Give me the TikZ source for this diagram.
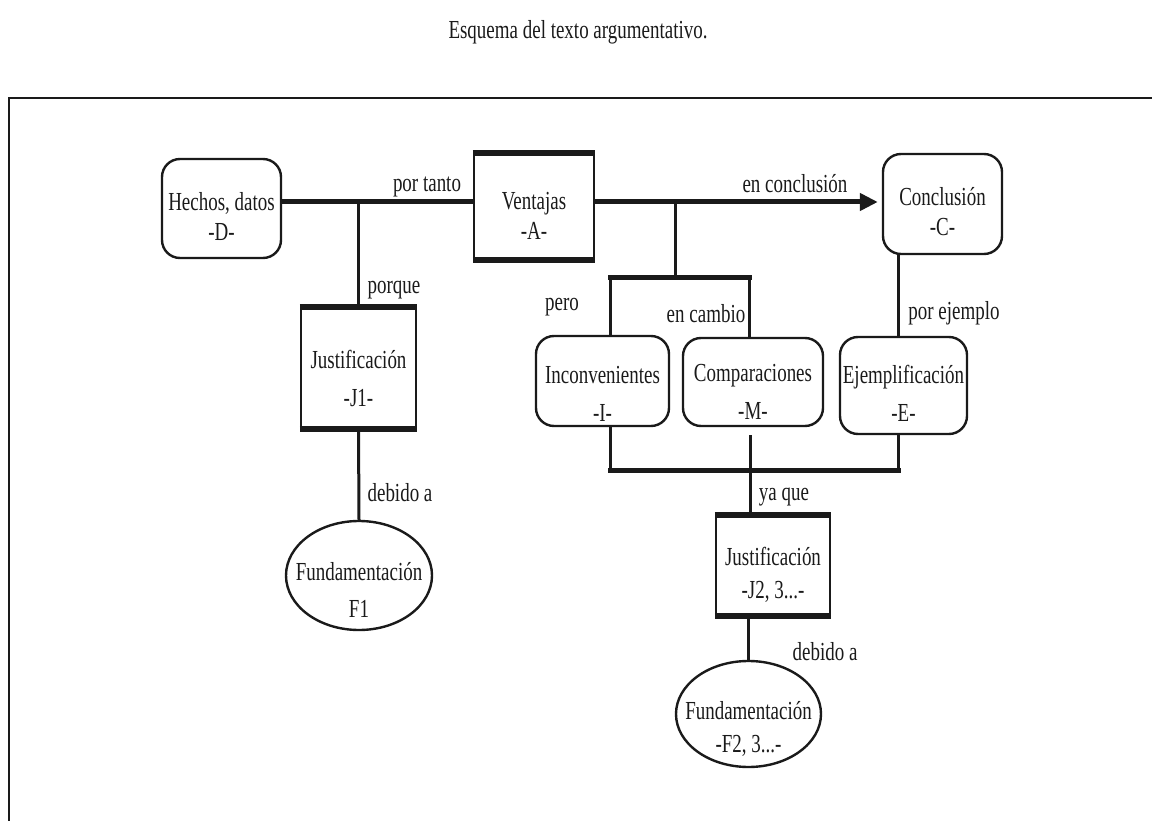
\documentclass[tikz,border=0pt]{standalone}
\usepackage{fontspec}
\setmainfont{Liberation Serif}[FakeStretch=0.73]
\usepackage{tikz}
\usetikzlibrary{arrows.meta,positioning,shapes.geometric}
\usepackage{xcolor}
\definecolor{ink}{HTML}{1A1A1A}
% two lines of a box, the first one pushed down by a tall strut
\newcommand{\twoline}[3]{\rule{0pt}{#1}#2\\#3\rule[-8pt]{0pt}{8pt}}
\tikzset{
  txt/.style={font=\fontsize{26}{32}\selectfont,text=ink,align=center,inner sep=0pt},
  roundbox/.style={txt,draw=ink,line width=2.4pt,rounded corners=18pt,inner ysep=-10pt},
  plainbox/.style={txt,draw=ink,line width=2.4pt,inner ysep=-10pt},
  oval/.style={txt,draw=ink,ellipse,line width=2.4pt,inner xsep=-30pt,inner ysep=-25pt},
  toprow/.style={font=\fontsize{26}{30}\selectfont},
  midrow/.style={font=\fontsize{26}{38}\selectfont},
  vlink/.style={draw=ink,line width=3pt},
  hlink/.style={draw=ink,line width=5pt,line cap=rect},
  capbar/.style={draw=ink,line width=6pt},
  lbl/.style={txt}
}

\begin{document}
\begin{tikzpicture}[x=1pt,y=-1pt]
  \useasboundingbox (0,0) rectangle (1152,821);
  \node[txt] (title) at (578,32) {Esquema del texto argumentativo.};
  \draw[draw=ink,line width=1.6pt] (9,821) -- (9,98) -- (1152,98);

  % upper row
  \node[roundbox,toprow,minimum width=119pt,minimum height=99pt] (hd) at (221.5,208.5) {\twoline{42pt}{Hechos, datos}{-D-}};
  \node[plainbox,toprow,minimum width=120pt,minimum height=105pt] (va) at (534,206.5) {\twoline{44pt}{Ventajas}{-A-}};
  \node[roundbox,toprow,minimum width=119pt,minimum height=100pt] (co) at (942.5,204) {\twoline{42pt}{Conclusión}{-C-}};

  % middle row
  \node[plainbox,midrow,minimum width=115pt,minimum height=120pt] (j1) at (358.5,368) {\twoline{47pt}{Justificación}{-J1-}};
  \node[roundbox,midrow,minimum width=133pt,minimum height=90pt] (inc) at (602.5,381) {\twoline{50pt}{Inconvenientes}{-I-}};
  \node[roundbox,midrow,minimum width=140pt,minimum height=88pt] (com) at (753,382) {\twoline{45pt}{Comparaciones}{-M-}};
  \node[roundbox,midrow,minimum width=127pt,minimum height=97pt] (eje) at (903.5,385.5) {\twoline{41pt}{Ejemplificación}{-E-}};

  % lower row
  \node[plainbox,font=\fontsize{26}{33}\selectfont,minimum width=114pt,minimum height=99pt] (j2) at (773,565.5) {\twoline{41pt}{Justificación}{-J2, 3...-}};
  \node[oval,font=\fontsize{26}{37}\selectfont,minimum width=146pt,minimum height=109pt] (f1) at (359,575.5) {\twoline{55pt}{Fundamentación}{F1}};
  \node[oval,font=\fontsize{26}{33}\selectfont,minimum width=145pt,minimum height=106pt] (f2) at (748.5,714) {\twoline{51pt}{Fundamentación}{-F2, 3...-}};

  \foreach \b in {va,j1,j2}
    \draw[capbar] (\b.north west) -- (\b.north east) (\b.south west) -- (\b.south east);

  % junctions
  \coordinate (dm) at (358,202);
  \coordinate (am) at (675,202);
  \coordinate (bt) at (675,278);
  \coordinate (btl) at (610,278);
  \coordinate (btr) at (749,278);
  \coordinate (bbl) at (610,470);
  \coordinate (bbm) at (750,470);
  \coordinate (bbr) at (898,470);

  \draw[hlink] (hd.east |- dm) -- (va.west |- dm);
  \draw[hlink,line cap=butt,-{Triangle[length=18pt,width=17pt]},shorten >=4pt] (va.east |- am) -- (co.west |- am);
  \draw[vlink] (dm) -- (j1.north -| dm);
  \draw[vlink] (j1.south) -- (f1.north);
  \draw[vlink] (am) -- (bt);
  \draw[hlink] (btl) -- (btr);
  \draw[vlink] (btl) -- (inc.north -| btl);
  \draw[vlink] (btr) -- (com.north -| btr);
  \draw[vlink] (co.south -| bbr) -- (eje.north -| bbr);
  \draw[vlink] (inc.south -| bbl) -- (bbl);
  \draw[vlink] (eje.south -| bbr) -- (bbr);
  \draw[hlink] (bbl) -- (bbr);
  \draw[vlink,shorten <=8pt] (com.south -| bbm) -- (j2.north -| bbm);
  \draw[vlink] (j2.south -| f2.north) -- (f2.north);

  % connector words
  \node[lbl] (lpt) at (427,187) {por tanto};
  \node[lbl] (lec) at (795,184) {en conclusión};
  \node[lbl] (lpq) at (394,290) {porque};
  \node[lbl] (lpe) at (562,307) {pero};
  \node[lbl] (lca) at (706,314) {en cambio};
  \node[lbl] (lej) at (954,313) {por ejemplo};
  \node[lbl] (lda) at (400,493) {debido a};
  \node[lbl] (lyq) at (784,497) {ya que};
  \node[lbl] (ldb) at (825,652) {debido a};
\end{tikzpicture}
\end{document}
